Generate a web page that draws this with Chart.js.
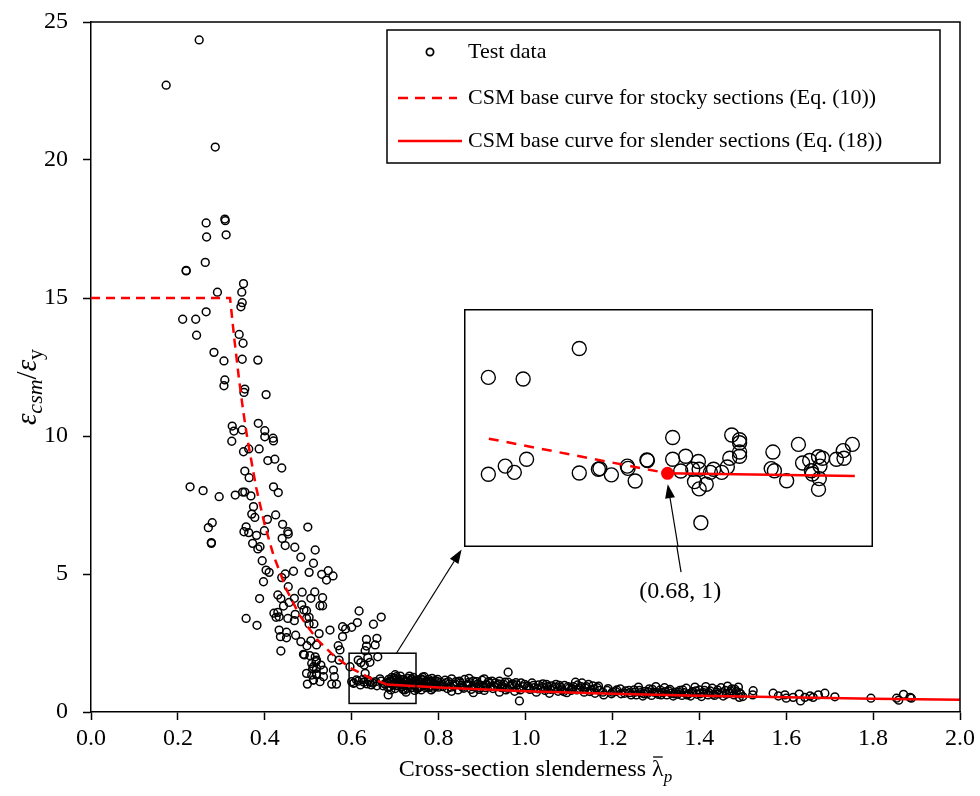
<!DOCTYPE html>
<html>
<head>
<meta charset="utf-8">
<script src="https://cdn.jsdelivr.net/npm/chart.js@4.4.1/dist/chart.umd.min.js"></script>
<style>
  body { margin: 0; background: #fff; }
  #wrap { position: relative; width: 980px; height: 796px; }
  #mainChart { position: absolute; left: 0; top: 0; }
  #insetBox { position: absolute; left: 464px; top: 309px; width: 409px; height: 238px; }
</style>
</head>
<body>
<div id="wrap">
  <canvas id="mainChart" width="980" height="796"></canvas>
  <div id="insetBox"><canvas id="insetChart" width="409" height="238"></canvas></div>
</div>
<script>
// test data, [slenderness, eps_csm/eps_y]
var testUpper = [
  [0.249, 24.35], [0.173, 22.71], [0.286, 20.47], [0.265, 17.72], [0.309, 17.80], [0.308, 17.86],
  [0.266, 17.21], [0.311, 17.29], [0.263, 16.29], [0.219, 16.00], [0.219, 15.98], [0.351, 15.52],
  [0.347, 15.21], [0.291, 15.21], [0.348, 14.83], [0.345, 14.68], [0.265, 14.50], [0.211, 14.23],
  [0.241, 14.23], [0.243, 13.65], [0.341, 13.68], [0.350, 13.36], [0.283, 13.03], [0.348, 12.78],
  [0.384, 12.75], [0.306, 12.72], [0.308, 12.03], [0.306, 11.82], [0.354, 11.70], [0.352, 11.58],
  [0.403, 11.50], [0.325, 10.36], [0.329, 10.18], [0.348, 10.22], [0.385, 10.46], [0.400, 10.19],
  [0.400, 9.97], [0.419, 9.92], [0.420, 9.82], [0.324, 9.81], [0.351, 9.43], [0.363, 9.53],
  [0.387, 9.53], [0.407, 9.11], [0.423, 9.16], [0.439, 8.84], [0.354, 8.73], [0.364, 8.49],
  [0.228, 8.16], [0.258, 8.02], [0.295, 7.80], [0.332, 7.86], [0.349, 7.97], [0.354, 7.97],
  [0.368, 7.83], [0.420, 8.16], [0.431, 7.95], [0.374, 7.44], [0.370, 7.17], [0.377, 7.05],
  [0.406, 6.98], [0.425, 7.14], [0.279, 6.86], [0.270, 6.68], [0.277, 6.11], [0.277, 6.14],
  [0.357, 6.71], [0.352, 6.53], [0.363, 6.50], [0.381, 6.40], [0.399, 6.57], [0.441, 6.80],
  [0.453, 6.53], [0.454, 6.45], [0.499, 6.70], [0.440, 6.29], [0.447, 6.03], [0.469, 5.97],
  [0.372, 6.11], [0.384, 5.91], [0.389, 5.99], [0.394, 5.48], [0.483, 5.61], [0.516, 5.87],
  [0.403, 5.14], [0.410, 5.06], [0.397, 4.72], [0.439, 4.87], [0.447, 5.00], [0.466, 5.10],
  [0.502, 5.06], [0.512, 5.39], [0.454, 4.54], [0.388, 4.11], [0.430, 4.24], [0.437, 4.11],
  [0.443, 3.84], [0.456, 3.97], [0.468, 4.12], [0.486, 4.34], [0.506, 4.12], [0.515, 4.35],
  [0.485, 3.88], [0.490, 3.70], [0.421, 3.58], [0.430, 3.61], [0.426, 3.43], [0.433, 3.45],
  [0.453, 3.39], [0.470, 3.54], [0.468, 3.31], [0.496, 3.39], [0.502, 3.19], [0.357, 3.39],
  [0.382, 3.14], [0.433, 2.97], [0.436, 2.73], [0.450, 2.89], [0.450, 2.69], [0.471, 2.78],
  [0.437, 2.21], [0.483, 2.55], [0.497, 2.40], [0.506, 2.58], [0.519, 2.43], [0.491, 2.07],
  [0.504, 2.04], [0.516, 2.00], [0.508, 1.76], [0.518, 1.82], [0.510, 1.56], [0.519, 1.58],
  [0.508, 1.34], [0.519, 1.38], [0.512, 1.16], [0.498, 1.01], [0.531, 4.99], [0.546, 5.12],
  [0.542, 4.78], [0.557, 4.93], [0.533, 4.14], [0.527, 3.85], [0.533, 3.85], [0.496, 3.67],
  [0.502, 3.43], [0.513, 3.19], [0.525, 2.84], [0.550, 2.97], [0.579, 3.09], [0.586, 3.01],
  [0.600, 3.07], [0.613, 3.24], [0.617, 3.66], [0.650, 3.18], [0.668, 3.44], [0.579, 2.73],
  [0.569, 2.40], [0.573, 2.25], [0.634, 2.63], [0.658, 2.67], [0.654, 2.43], [0.634, 2.39],
  [0.631, 2.22], [0.596, 1.64], [0.615, 1.88], [0.621, 1.79], [0.629, 1.70], [0.642, 1.80],
  [0.660, 2.00], [0.637, 1.97], [0.571, 1.88], [0.554, 1.95], [0.489, 2.09], [0.519, 1.88],
  [0.529, 1.70], [0.512, 1.64], [0.535, 1.52], [0.558, 1.52], [0.496, 1.40], [0.519, 1.34],
  [0.535, 1.28], [0.512, 1.16], [0.527, 1.10], [0.554, 1.01], [0.565, 1.01], [0.560, 1.28],
  [0.600, 1.10], [0.611, 1.16], [0.604, 1.04], [0.631, 1.40], [0.642, 1.10], [0.684, 0.62]
];
var testBand = [
  [0.605, 1.05], [0.615, 1.12], [0.625, 1.18], [0.635, 1.02], [0.645, 0.98], [0.655, 1.10], [0.665, 1.20], [0.672, 0.95],
  [0.682, 1.05], [0.685, 1.18], [0.688, 0.92], [0.690, 1.10], [0.692, 1.25], [0.695, 0.98], [0.698, 1.15], [0.700, 0.85],
  [0.702, 1.05], [0.705, 1.20], [0.707, 0.95], [0.710, 1.12], [0.712, 1.30], [0.715, 0.90], [0.717, 1.02], [0.720, 1.18],
  [0.722, 0.80], [0.725, 1.08], [0.727, 0.95], [0.730, 1.22], [0.732, 1.00], [0.735, 1.14], [0.737, 0.88], [0.740, 1.06],
  [0.742, 1.25], [0.745, 0.96], [0.747, 1.10], [0.750, 0.84], [0.752, 1.16], [0.755, 1.02], [0.757, 0.92], [0.760, 1.20],
  [0.762, 1.08], [0.765, 0.98], [0.767, 1.28], [0.770, 0.88], [0.772, 1.12], [0.775, 1.00], [0.777, 1.18], [0.780, 0.94],
  [0.782, 1.06], [0.785, 1.22], [0.787, 0.86], [0.790, 1.04], [0.792, 1.14], [0.795, 0.96], [0.797, 1.10], [0.800, 0.90],
  [0.700, 1.35], [0.745, 0.78], [0.725, 0.72], [0.760, 0.80], [0.690, 0.80],
  [0.805, 1.08], [0.810, 0.92], [0.815, 1.15], [0.820, 0.85], [0.825, 1.02], [0.830, 1.20], [0.835, 0.95], [0.840, 1.10],
  [0.845, 0.80], [0.850, 1.05], [0.855, 0.90], [0.860, 1.18], [0.865, 0.98], [0.870, 1.08], [0.875, 0.82], [0.880, 1.12],
  [0.885, 0.95], [0.890, 1.02], [0.895, 0.88], [0.900, 1.15], [0.905, 0.78], [0.910, 1.00], [0.915, 1.10], [0.920, 0.92],
  [0.925, 0.85], [0.930, 1.05], [0.935, 0.96], [0.940, 1.12], [0.945, 0.88], [0.950, 1.00], [0.955, 0.80], [0.960, 1.08],
  [0.965, 0.92], [0.970, 1.02], [0.975, 0.75], [0.980, 0.98], [0.985, 0.86], [0.990, 1.05], [0.995, 0.92], [0.830, 0.75],
  [0.870, 1.22], [0.905, 1.20], [0.940, 0.72], [0.880, 0.70], [0.960, 1.44], [0.986, 0.40],
  [1.005, 0.95], [1.010, 0.82], [1.015, 1.05], [1.020, 0.88], [1.025, 0.72], [1.030, 0.98], [1.035, 0.85], [1.040, 1.02],
  [1.045, 0.78], [1.050, 0.92], [1.055, 0.68], [1.060, 0.95], [1.065, 0.84], [1.070, 1.00], [1.075, 0.75], [1.080, 0.90],
  [1.085, 0.80], [1.090, 0.96], [1.095, 0.70], [1.100, 0.86], [1.105, 0.78], [1.110, 0.92], [1.115, 1.08], [1.120, 0.98],
  [1.125, 0.85], [1.130, 1.05], [1.135, 0.72], [1.140, 0.92], [1.145, 1.00], [1.150, 0.80], [1.155, 0.95], [1.160, 0.68],
  [1.165, 0.88], [1.170, 0.78], [1.180, 0.62], [1.190, 0.85], [1.200, 0.72], [1.210, 0.80], [1.220, 0.66], [1.230, 0.76],
  [1.240, 0.70],
  [1.250, 0.80], [1.255, 0.62], [1.260, 0.90], [1.265, 0.70], [1.270, 0.58], [1.275, 0.75], [1.280, 0.66], [1.285, 0.84],
  [1.290, 0.60], [1.295, 0.72], [1.300, 0.92], [1.305, 0.64], [1.310, 0.80], [1.315, 0.70], [1.320, 0.88], [1.325, 0.62],
  [1.330, 0.76], [1.335, 0.68], [1.340, 0.58], [1.345, 0.72], [1.350, 0.64], [1.355, 0.78], [1.360, 0.60], [1.365, 0.70],
  [1.370, 0.86], [1.375, 0.66], [1.380, 0.58], [1.385, 0.74], [1.390, 0.90], [1.395, 0.64], [1.400, 0.80], [1.405, 0.56],
  [1.410, 0.70], [1.415, 0.92], [1.420, 0.62], [1.425, 0.76], [1.430, 0.86], [1.435, 0.60], [1.440, 0.72], [1.445, 0.66],
  [1.450, 0.88], [1.455, 0.58], [1.460, 0.78], [1.465, 0.94], [1.470, 0.68], [1.475, 0.84], [1.480, 0.62], [1.485, 0.74],
  [1.490, 0.90], [1.495, 0.66], [1.500, 0.56]
];
var testBand2 = [
  [0.620, 0.98], [0.628, 1.08], [0.638, 1.15], [0.648, 1.05], [0.658, 0.95], [0.668, 1.12], [0.676, 1.02], [0.683, 0.90],
  [0.687, 1.12], [0.693, 1.02], [0.697, 1.22], [0.703, 0.96], [0.708, 1.08], [0.713, 1.18], [0.718, 0.98], [0.723, 1.12],
  [0.728, 0.86], [0.733, 1.06], [0.738, 1.20], [0.743, 1.00], [0.748, 1.14], [0.753, 0.92], [0.758, 1.08], [0.763, 1.16],
  [0.768, 0.96], [0.773, 1.06], [0.778, 0.88], [0.783, 1.12], [0.788, 1.00], [0.793, 0.92], [0.798, 1.18], [0.703, 1.28],
  [0.733, 1.30], [0.763, 1.26], [0.718, 0.82], [0.753, 0.86], [0.783, 0.80],
  [0.808, 1.00], [0.818, 1.06], [0.828, 0.90], [0.838, 1.02], [0.848, 1.12], [0.858, 0.86], [0.868, 1.00], [0.878, 0.92],
  [0.888, 1.10], [0.898, 0.96], [0.908, 0.88], [0.918, 1.04], [0.928, 0.94], [0.938, 1.02], [0.948, 0.92], [0.958, 0.86],
  [0.968, 0.96], [0.978, 1.06], [0.988, 0.80], [0.998, 1.00], [0.823, 1.10], [0.853, 0.96], [0.893, 0.82], [0.923, 1.12],
  [0.953, 1.08],
  [1.008, 0.88], [1.018, 0.96], [1.028, 0.84], [1.038, 0.92], [1.048, 1.00], [1.058, 0.82], [1.068, 0.90], [1.078, 0.96],
  [1.088, 0.74], [1.098, 0.92], [1.108, 0.84], [1.118, 0.80], [1.128, 0.92], [1.138, 0.86], [1.148, 0.74], [1.158, 0.84],
  [1.168, 0.94], [1.178, 0.72], [1.188, 0.78], [1.198, 0.66], [1.208, 0.74], [1.218, 0.84], [1.228, 0.68], [1.238, 0.78],
  [1.243, 0.62],
  [1.252, 0.72], [1.262, 0.78], [1.272, 0.66], [1.282, 0.74], [1.292, 0.82], [1.302, 0.70], [1.312, 0.62], [1.322, 0.74],
  [1.332, 0.82], [1.342, 0.66], [1.352, 0.72], [1.362, 0.80], [1.372, 0.62], [1.382, 0.70], [1.392, 0.76], [1.402, 0.66],
  [1.412, 0.78], [1.422, 0.70], [1.432, 0.64], [1.442, 0.80], [1.452, 0.70], [1.462, 0.64], [1.472, 0.76], [1.482, 0.82],
  [1.492, 0.70]
];
var testTail = [
  [1.524, 0.77], [1.523, 0.62], [1.492, 0.53], [1.570, 0.68], [1.582, 0.58], [1.597, 0.62], [1.600, 0.50],
  [1.616, 0.53], [1.630, 0.65], [1.633, 0.40], [1.643, 0.53], [1.655, 0.58], [1.662, 0.53], [1.674, 0.62],
  [1.689, 0.68], [1.712, 0.55], [1.795, 0.50], [1.854, 0.50], [1.859, 0.43], [1.870, 0.64], [1.885, 0.53],
  [1.888, 0.50]
];

// CSM base curves
var stockyCurve = [
  [0.0, 15], [0.32, 15], [0.33, 13.5], [0.34, 12.15], [0.35, 10.94], [0.36, 9.89], [0.38, 8.14], [0.40, 6.77],
  [0.42, 5.68], [0.45, 4.43], [0.48, 3.51], [0.52, 2.63], [0.56, 2.02], [0.60, 1.57], [0.64, 1.25], [0.68, 1.0]
];
var slenderCurve = [
  [0.68, 1.0], [0.8, 0.89], [1.0, 0.75], [1.2, 0.66], [1.4, 0.59], [1.6, 0.53], [1.8, 0.48], [2.0, 0.44]
];

// zoomed inset (own axes, not shown)
var insetPoints = [
  [0.6065, 1.739], [0.6207, 1.727], [0.6436, 1.961], [0.6065, 0.995], [0.6134, 1.057], [0.6171, 1.009],
  [0.6221, 1.110], [0.6436, 1.004], [0.6514, 1.033], [0.6520, 1.038], [0.6567, 0.990], [0.6632, 1.057],
  [0.6635, 1.040], [0.6664, 0.943], [0.6712, 1.105], [0.6714, 1.100], [0.6817, 1.277], [0.6817, 1.110],
  [0.6850, 1.019], [0.6870, 1.133], [0.6899, 1.033], [0.6906, 0.938], [0.6922, 1.093], [0.6925, 1.033],
  [0.6925, 0.882], [0.6954, 0.918], [0.6932, 0.622], [0.6971, 1.009], [0.6984, 1.033], [0.7017, 1.009],
  [0.7040, 1.050], [0.7050, 1.117], [0.7058, 1.296], [0.7090, 1.260], [0.7090, 1.237], [0.7090, 1.165],
  [0.7090, 1.133], [0.7226, 1.165], [0.7219, 1.038], [0.7232, 1.021], [0.7282, 0.945], [0.7330, 1.224],
  [0.7347, 1.081], [0.7376, 1.100], [0.7383, 1.021], [0.7387, 0.997], [0.7412, 1.129], [0.7418, 1.057],
  [0.7415, 0.961], [0.7412, 0.878], [0.7428, 1.117], [0.7485, 1.110], [0.7513, 1.176], [0.7516, 1.117],
  [0.7550, 1.224]
];
var insetStocky = [[0.6067, 1.268], [0.6796, 1.002]];
var insetSlender = [[0.6796, 1.002], [0.7560, 0.981]];
var insetMark = [[0.6796, 1.002]];

var xTicksMin = 0, xTicksMax = 2, xStep = 0.2;
var yTicksMin = 0, yTicksMax = 25, yStep = 5;

var serif = "'Liberation Serif', 'Times New Roman', serif";

function xy(arr) {
  return arr.map((p) => ({ x: p[0], y: p[1] }));
}

function drawRich(ctx, parts, x, y) {
  // parts drawn left to right, centred on x
  let total = 0;
  parts.forEach((p) => {
    ctx.font = p.f;
    p.w = ctx.measureText(p.t).width;
    total += p.w;
  });
  let cx = x - total / 2;
  parts.forEach((p) => {
    ctx.font = p.f;
    ctx.fillText(p.t, cx, y + (p.dy || 0));
    if (p.bar) {
      ctx.beginPath();
      ctx.lineWidth = 1.3;
      ctx.moveTo(cx + 1, y - 19);
      ctx.lineTo(cx + p.w - 1, y - 19);
      ctx.stroke();
    }
    cx += p.w;
  });
}

function arrow(ctx, x1, y1, x2, y2) {
  let a = Math.atan2(y2 - y1, x2 - x1);
  let len = 14, half = 5;
  ctx.beginPath();
  ctx.moveTo(x1, y1);
  ctx.lineTo(x2 - len * Math.cos(a), y2 - len * Math.sin(a));
  ctx.stroke();
  ctx.beginPath();
  ctx.moveTo(x2, y2);
  ctx.lineTo(x2 - len * Math.cos(a) + half * Math.sin(a), y2 - len * Math.sin(a) - half * Math.cos(a));
  ctx.lineTo(x2 - len * Math.cos(a) - half * Math.sin(a), y2 - len * Math.sin(a) + half * Math.cos(a));
  ctx.closePath();
  ctx.fill();
}

var mainDecor = {
  id: "mainDecor",
  afterDraw(chart) {
    const ctx = chart.ctx;
    const a = chart.chartArea;
    const xs = chart.scales.x, ys = chart.scales.y;
    ctx.save();
    ctx.strokeStyle = "#000";
    ctx.fillStyle = "#000";
    // frame top / right
    ctx.lineWidth = 1.5;
    ctx.beginPath();
    ctx.moveTo(a.left, a.top);
    ctx.lineTo(a.right, a.top);
    ctx.lineTo(a.right, a.bottom);
    ctx.stroke();

    // zoom rectangle
    const rx1 = xs.getPixelForValue(0.594), rx2 = xs.getPixelForValue(0.748);
    const ry1 = ys.getPixelForValue(2.13), ry2 = ys.getPixelForValue(0.31);
    ctx.lineWidth = 1.5;
    ctx.strokeRect(rx1, ry1, rx2 - rx1, ry2 - ry1);

    // arrows
    ctx.lineWidth = 1.2;
    arrow(ctx, xs.getPixelForValue(0.703), ys.getPixelForValue(2.13),
      xs.getPixelForValue(0.853), ys.getPixelForValue(5.89));
    arrow(ctx, xs.getPixelForValue(1.358), ys.getPixelForValue(5.07),
      xs.getPixelForValue(1.326), ys.getPixelForValue(8.13));

    ctx.textAlign = "center";
    ctx.textBaseline = "middle";
    ctx.font = "24px " + serif;
    ctx.fillText("(0.68, 1)", xs.getPixelForValue(1.356), ys.getPixelForValue(4.35));

    // legend
    const lx = a.right - 573, ly = a.top + 8, lw = 553, lh = 133;
    ctx.fillStyle = "#fff";
    ctx.fillRect(lx, ly, lw, lh);
    ctx.lineWidth = 1.5;
    ctx.strokeRect(lx, ly, lw, lh);
    ctx.fillStyle = "#000";
    ctx.textAlign = "left";
    ctx.font = "22px " + serif;
    const rows = [22, 68, 111];
    ctx.beginPath();
    ctx.lineWidth = 1.8;
    ctx.arc(lx + 43, ly + rows[0], 3.6, 0, Math.PI * 2);
    ctx.stroke();
    ctx.fillText("Test data", lx + 81, ly + rows[0]);
    ctx.strokeStyle = "#ff0000";
    ctx.lineWidth = 2.5;
    ctx.setLineDash([10, 7]);
    ctx.beginPath();
    ctx.moveTo(lx + 11, ly + rows[1]);
    ctx.lineTo(lx + 70, ly + rows[1]);
    ctx.stroke();
    ctx.setLineDash([]);
    ctx.beginPath();
    ctx.moveTo(lx + 11, ly + rows[2]);
    ctx.lineTo(lx + 75, ly + rows[2]);
    ctx.stroke();
    ctx.fillText("CSM base curve for stocky sections (Eq. (10))", lx + 81, ly + rows[1]);
    ctx.fillText("CSM base curve for slender sections (Eq. (18))", lx + 81, ly + rows[2]);

    // axis titles
    ctx.fillStyle = "#000";
    ctx.strokeStyle = "#000";
    ctx.textBaseline = "alphabetic";
    drawRich(ctx, [
      { t: "Cross-section slenderness ", f: "24px " + serif },
      { t: "λ", f: "24px " + serif, bar: true },
      { t: "p", f: "italic 17px " + serif, dy: 6 }
    ], (a.left + a.right) / 2 + 10, 776);

    ctx.translate(36, (a.top + a.bottom) / 2 + 20);
    ctx.rotate(-Math.PI / 2);
    drawRich(ctx, [
      { t: "ε", f: "italic 29px " + serif },
      { t: "csm", f: "italic 22px " + serif, dy: 6 },
      { t: "/", f: "29px " + serif },
      { t: "ε", f: "italic 29px " + serif },
      { t: "y", f: "22px " + serif, dy: 6 }
    ], 0, 0);
    ctx.restore();
  }
};

new Chart(document.getElementById("mainChart").getContext("2d"), {
  type: "scatter",
  data: {
    datasets: [
      {
        label: "CSM base curve for stocky sections (Eq. (10))",
        data: xy(stockyCurve),
        showLine: true,
        borderColor: "#ff0000",
        borderWidth: 2.5,
        borderDash: [9, 6],
        pointRadius: 0,
        order: 1
      },
      {
        label: "CSM base curve for slender sections (Eq. (18))",
        data: xy(slenderCurve),
        showLine: true,
        borderColor: "#ff0000",
        borderWidth: 2.5,
        pointRadius: 0,
        order: 1
      },
      {
        label: "Test data",
        data: xy(testUpper.concat(testBand, testBand2, testTail)),
        pointStyle: "circle",
        pointRadius: 3.9,
        borderWidth: 1.5,
        borderColor: "#000",
        backgroundColor: "rgba(0,0,0,0)",
        order: 2
      }
    ]
  },
  options: {
    responsive: false,
    animation: false,
    devicePixelRatio: 1,
    layout: { padding: { top: 22, right: 20, left: 0, bottom: 0 } },
    plugins: { legend: { display: false }, tooltip: { enabled: false } },
    scales: {
      x: {
        type: "linear",
        min: xTicksMin,
        max: xTicksMax,
        afterFit: (s) => { s.height = 84; },
        ticks: {
          stepSize: xStep,
          color: "#000",
          font: { family: serif, size: 24 },
          padding: 4,
          callback: (v) => v.toFixed(1)
        },
        grid: { drawOnChartArea: false, tickLength: 8, tickColor: "#000", tickWidth: 1.5 },
        border: { color: "#000", width: 1.5 }
      },
      y: {
        min: yTicksMin,
        max: yTicksMax,
        afterFit: (s) => { s.width = 91; },
        ticks: {
          stepSize: yStep,
          color: "#000",
          font: { family: serif, size: 24 },
          padding: 3,
          // en space keeps the labels clear of the tick marks
          callback: (v) => v + "\u2002"
        },
        grid: { drawOnChartArea: false, tickLength: 8, tickColor: "#000", tickWidth: 1.5 },
        border: { color: "#000", width: 1.5 }
      }
    }
  },
  plugins: [mainDecor]
});

// inset
var insetDecor = {
  id: "insetDecor",
  beforeDraw(chart) {
    const ctx = chart.ctx;
    ctx.save();
    ctx.fillStyle = "#fff";
    ctx.fillRect(0, 0, chart.width, chart.height);
    ctx.restore();
  },
  afterDraw(chart) {
    const ctx = chart.ctx;
    const xs = chart.scales.x, ys = chart.scales.y;
    ctx.save();
    ctx.strokeStyle = "#000";
    ctx.fillStyle = "#000";
    ctx.lineWidth = 1.2;
    const tx = xs.getPixelForValue(0.6797), ty = ys.getPixelForValue(0.918);
    arrow(ctx, tx + 14, ty + 85, tx, ty);
    ctx.lineWidth = 1.5;
    ctx.strokeRect(0.75, 0.75, chart.width - 1.5, chart.height - 1.5);
    ctx.restore();
  }
};

new Chart(document.getElementById("insetChart").getContext("2d"), {
  type: "scatter",
  data: {
    datasets: [
      {
        data: xy(insetMark),
        pointRadius: 6.5,
        borderWidth: 0,
        backgroundColor: "#ff0000",
        order: 0
      },
      {
        data: xy(insetStocky),
        showLine: true,
        borderColor: "#ff0000",
        borderWidth: 2.5,
        borderDash: [10, 8],
        pointRadius: 0,
        order: 1
      },
      {
        data: xy(insetSlender),
        showLine: true,
        borderColor: "#ff0000",
        borderWidth: 2.5,
        pointRadius: 0,
        order: 1
      },
      {
        data: xy(insetPoints),
        pointRadius: 7,
        borderWidth: 1.4,
        borderColor: "#000",
        backgroundColor: "rgba(0,0,0,0)",
        order: 2
      }
    ]
  },
  options: {
    responsive: false,
    animation: false,
    devicePixelRatio: 1,
    layout: { padding: 0 },
    plugins: { legend: { display: false }, tooltip: { enabled: false } },
    scales: {
      x: { type: "linear", min: 0.6, max: 0.76, display: false },
      y: { min: 0.5, max: 2.2, display: false }
    }
  },
  plugins: [insetDecor]
});
</script>
</body>
</html>
